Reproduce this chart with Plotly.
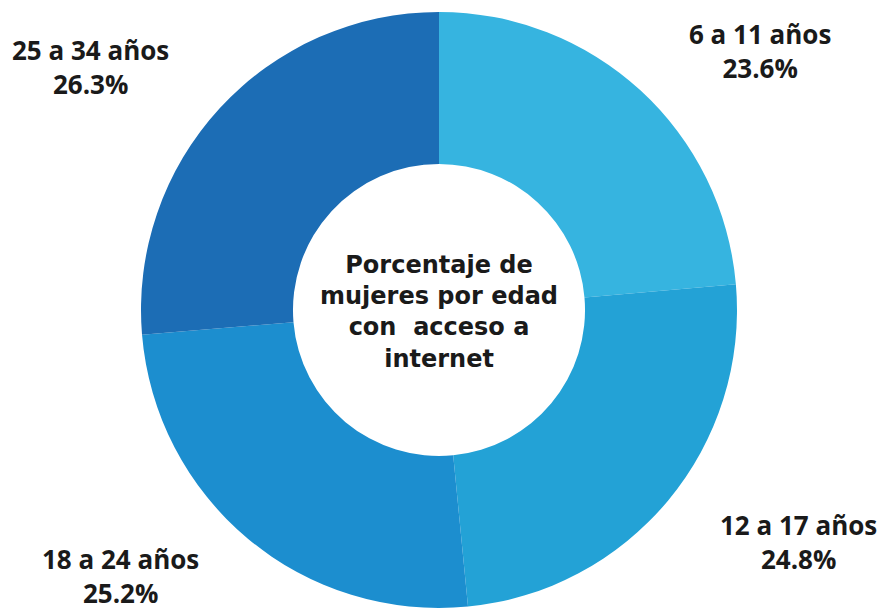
import plotly.graph_objects as go

categorias = ["6 a 11 años", "12 a 17 años", "18 a 24 años", "25 a 34 años"]
porcentajes = [23.6, 24.8, 25.2, 26.3]
colores = ["#36b4e0", "#23a2d6", "#1c8ecf", "#1c6db5"]
titulo_centro = "Porcentaje de<br>mujeres por edad<br>con  acceso a<br>internet"

# page body has an 8px margin; figure sized to fill the window exactly
OFF = 8
W, H = 885 - OFF, 613 - OFF

def px_x(x):
    return (x - OFF) / W

def px_y(y):
    return 1 - (y - OFF) / H

# label anchor positions in window pixels (center of text block)
label_pos = [(760, 51), (798, 542), (120, 576), (90, 67)]

cx, cy, r = 439, 310, 298

fig = go.Figure(go.Pie(
    labels=categorias,
    values=porcentajes,
    hole=0.49,
    sort=False,
    direction="clockwise",
    rotation=0,
    marker=dict(colors=colores, line=dict(width=0)),
    textinfo="none",
    hoverinfo="label+percent",
    showlegend=False,
    domain=dict(x=[px_x(cx - r), px_x(cx + r)],
                y=[px_y(cy + r), px_y(cy - r)]),
))

annotations = []
for (lx, ly), cat, val in zip(label_pos, categorias, porcentajes):
    annotations.append(dict(
        x=px_x(lx), y=px_y(ly), xref="paper", yref="paper",
        text=f"<b>{cat}<br>{val:.1f}%</b>",
        showarrow=False, align="center",
        font=dict(family="Open Sans", size=26, color="#1a1a1a"),
        xanchor="center", yanchor="middle",
    ))
annotations.append(dict(
    x=px_x(439), y=px_y(312), xref="paper", yref="paper",
    text=f"<b>{titulo_centro}</b>",
    showarrow=False, align="center",
    font=dict(family="DejaVu Sans", size=24, color="#1a1a1a"),
    xanchor="center", yanchor="middle",
))

fig.update_layout(
    width=W, height=H,
    margin=dict(l=0, r=0, t=0, b=0),
    paper_bgcolor="white",
    plot_bgcolor="white",
    annotations=annotations,
)

fig.write_html("out.html")
